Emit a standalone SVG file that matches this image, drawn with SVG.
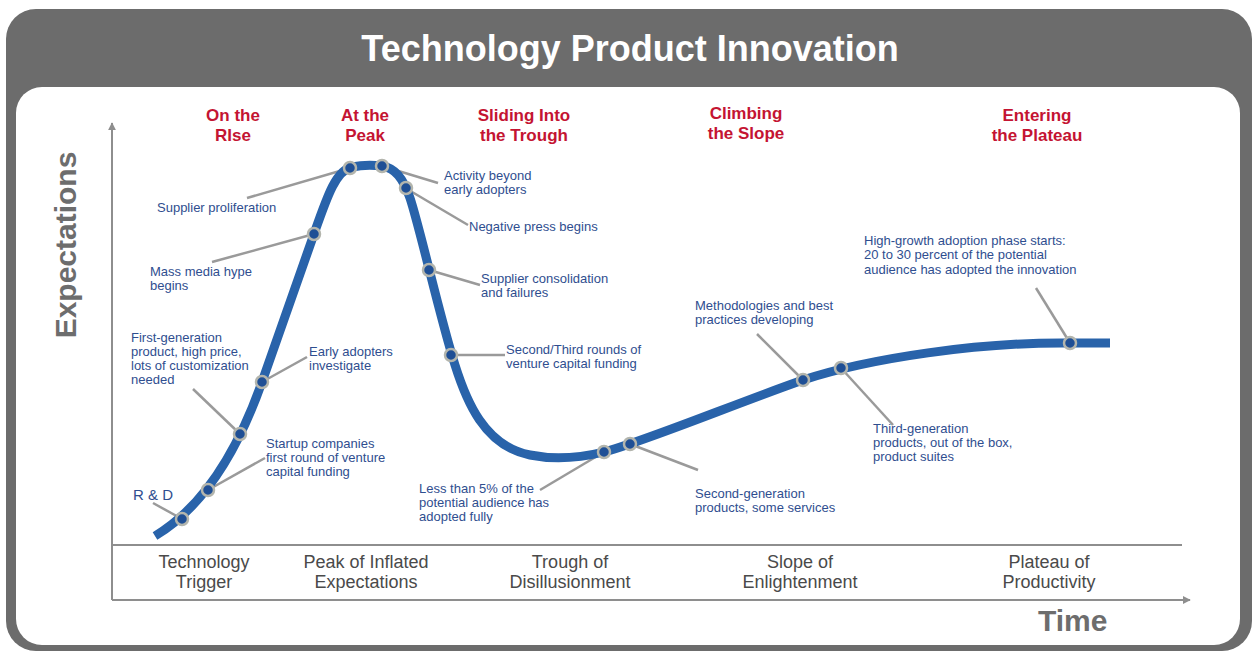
<svg xmlns="http://www.w3.org/2000/svg" width="1253" height="652" viewBox="0 0 1253 652">
<defs>
<style>
.ann{font-family:"Liberation Sans",Arial,sans-serif;font-size:13px;fill:#2f4e8f}
.head{font-family:"Liberation Sans",Arial,sans-serif;font-size:17px;font-weight:bold;fill:#c41432;text-anchor:middle}
.phase{font-family:"Liberation Sans",Arial,sans-serif;font-size:18px;fill:#4a4a4a;text-anchor:middle}
.axis{stroke:#8e8e8e;stroke-width:2;fill:none}
.lead{stroke:#9a9a9a;stroke-width:2.5;fill:none}
.mk{fill:#1f4f95;stroke:#b3b5ad;stroke-width:2.5}
</style>
<marker id="arr" viewBox="0 0 10 10" refX="9" refY="5" markerWidth="4" markerHeight="4" orient="auto">
<path d="M0,0 L10,5 L0,10 z" fill="#8e8e8e"/>
</marker>
</defs>
<rect x="6" y="9" width="1246" height="642" rx="30" fill="#6c6c6c"/>
<rect x="16" y="87" width="1224" height="558" rx="26" fill="#ffffff"/>
<text x="630" y="61" font-family="Liberation Sans,Arial,sans-serif" font-size="36" font-weight="bold" fill="#ffffff" text-anchor="middle">Technology Product Innovation</text>

<g id="axes">
<line class="axis" x1="112" y1="600" x2="112" y2="123" marker-end="url(#arr)"/>
<line class="axis" x1="112" y1="600" x2="1190" y2="600" marker-end="url(#arr)"/>
<line class="axis" x1="112" y1="545" x2="1182" y2="545"/>
<text x="0" y="0" transform="translate(76,245) rotate(-90)" font-family="Liberation Sans,Arial,sans-serif" font-size="30" font-weight="bold" fill="#6d6d6d" text-anchor="middle">Expectations</text>
<text x="1038" y="631" font-family="Liberation Sans,Arial,sans-serif" font-size="30" font-weight="bold" fill="#6d6d6d">Time</text>
</g>

<g id="headings">
<text class="head" x="233" y="121">On the</text><text class="head" x="233" y="141">RIse</text>
<text class="head" x="365" y="121">At the</text><text class="head" x="365" y="141">Peak</text>
<text class="head" x="524" y="121">Sliding Into</text><text class="head" x="524" y="141">the Trough</text>
<text class="head" x="746" y="119">Climbing</text><text class="head" x="746" y="139">the Slope</text>
<text class="head" x="1037" y="121">Entering</text><text class="head" x="1037" y="141">the Plateau</text>
</g>

<g id="phases">
<text class="phase" x="204" y="568">Technology</text><text class="phase" x="204" y="588">Trigger</text>
<text class="phase" x="366" y="568">Peak of Inflated</text><text class="phase" x="366" y="588">Expectations</text>
<text class="phase" x="570" y="568">Trough of</text><text class="phase" x="570" y="588">Disillusionment</text>
<text class="phase" x="800" y="568">Slope of</text><text class="phase" x="800" y="588">Enlightenment</text>
<text class="phase" x="1049" y="568">Plateau of</text><text class="phase" x="1049" y="588">Productivity</text>
</g>

<g id="connectors">
<line class="lead" x1="153" y1="503" x2="182" y2="519"/>
<line class="lead" x1="265" y1="458" x2="208" y2="490"/>
<line class="lead" x1="193" y1="389" x2="240" y2="434"/>
<line class="lead" x1="307" y1="357" x2="262" y2="382"/>
<line class="lead" x1="212" y1="262" x2="314" y2="234"/>
<line class="lead" x1="247" y1="198" x2="350" y2="168"/>
<line class="lead" x1="438" y1="183" x2="382" y2="166"/>
<line class="lead" x1="468" y1="225" x2="407" y2="189"/>
<line class="lead" x1="480" y1="285" x2="429" y2="270"/>
<line class="lead" x1="505" y1="355" x2="451" y2="355"/>
<line class="lead" x1="540" y1="490" x2="604" y2="452"/>
<line class="lead" x1="698" y1="470" x2="630" y2="444"/>
<line class="lead" x1="757" y1="334" x2="803" y2="380"/>
<line class="lead" x1="893" y1="425" x2="841" y2="368"/>
<line class="lead" x1="1036" y1="288" x2="1070" y2="343"/>
</g>

<g id="curve">
<path d="M155,536 C185,518 228,478 262,382 L314,234 C327,197 336,170 352,167 C362,165 372,165 382,166 C395,168 403,178 410,198 C420,228 440,318 455,365 C466,400 484,446 530,455 C550,459 575,459 604,452 C640,443 740,402 803,380 C870,358 980,342 1070,343 L1110,343" fill="none" stroke="#2963aa" stroke-width="9" stroke-linecap="butt" stroke-linejoin="round"/>
</g>

<g id="n-rd"><circle class="mk" cx="182" cy="519" r="6"/><text class="ann" x="133" y="500" style="font-size:15px">R &amp; D</text></g>
<g id="n-startup"><circle class="mk" cx="208" cy="490" r="6"/><text class="ann" x="266" y="448">Startup companies</text><text class="ann" x="266" y="462">first round of venture</text><text class="ann" x="266" y="476">capital funding</text></g>
<g id="n-firstgen"><circle class="mk" cx="240" cy="434" r="6"/><text class="ann" x="131" y="342">First-generation</text><text class="ann" x="131" y="356">product, high price,</text><text class="ann" x="131" y="370">lots of customization</text><text class="ann" x="131" y="384">needed</text></g>
<g id="n-early"><circle class="mk" cx="262" cy="382" r="6"/><text class="ann" x="309" y="356">Early adopters</text><text class="ann" x="309" y="370">investigate</text></g>
<g id="n-mass"><circle class="mk" cx="314" cy="234" r="6"/><text class="ann" x="150" y="276">Mass media hype</text><text class="ann" x="150" y="290">begins</text></g>
<g id="n-supplier"><circle class="mk" cx="350" cy="168" r="6"/><text class="ann" x="157" y="212">Supplier proliferation</text></g>
<g id="n-activity"><circle class="mk" cx="382" cy="166" r="6"/><text class="ann" x="444" y="180">Activity beyond</text><text class="ann" x="444" y="194">early adopters</text></g>
<g id="n-negative"><circle class="mk" cx="406" cy="188" r="6"/><text class="ann" x="469" y="231">Negative press begins</text></g>
<g id="n-consol"><circle class="mk" cx="429" cy="270" r="6"/><text class="ann" x="481" y="283">Supplier consolidation</text><text class="ann" x="481" y="297">and failures</text></g>
<g id="n-rounds"><circle class="mk" cx="451" cy="355" r="6"/><text class="ann" x="506" y="354">Second/Third rounds of</text><text class="ann" x="506" y="368">venture capital funding</text></g>
<g id="n-less"><circle class="mk" cx="604" cy="452" r="6"/><text class="ann" x="419" y="493">Less than 5% of the</text><text class="ann" x="419" y="507">potential audience has</text><text class="ann" x="419" y="521">adopted fully</text></g>
<g id="n-secondgen"><circle class="mk" cx="630" cy="444" r="6"/><text class="ann" x="695" y="498">Second-generation</text><text class="ann" x="695" y="512">products, some services</text></g>
<g id="n-method"><circle class="mk" cx="803" cy="380" r="6"/><text class="ann" x="695" y="310">Methodologies and best</text><text class="ann" x="695" y="324">practices developing</text></g>
<g id="n-thirdgen"><circle class="mk" cx="841" cy="368" r="6"/><text class="ann" x="873" y="433">Third-generation</text><text class="ann" x="873" y="447">products, out of the box,</text><text class="ann" x="873" y="461">product suites</text></g>
<g id="n-highgrowth"><circle class="mk" cx="1070" cy="343" r="6"/><text class="ann" x="864" y="245">High-growth adoption phase starts:</text><text class="ann" x="864" y="259">20 to 30 percent of the potential</text><text class="ann" x="864" y="274">audience has adopted the innovation</text></g>
</svg>
